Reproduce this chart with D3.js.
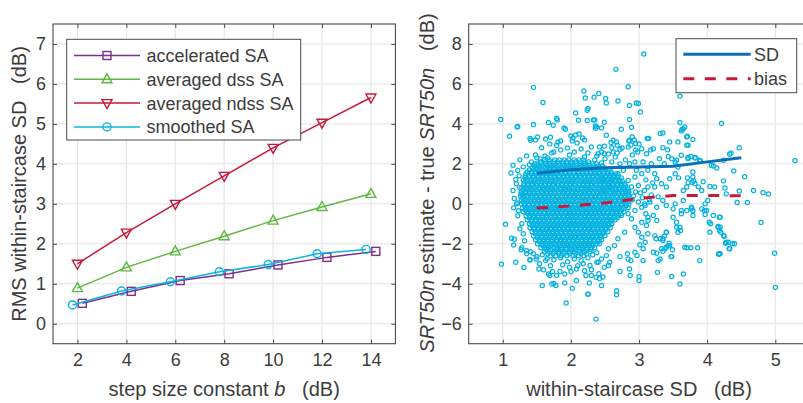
<!DOCTYPE html>
<html><head><meta charset="utf-8">
<script src="https://cdn.jsdelivr.net/npm/d3@7/dist/d3.min.js"></script>
<style>
body{margin:0;background:#fff}
svg{display:block}
text{font-family:"Liberation Sans",Arial,Helvetica,sans-serif;fill:#3c3c3c}
</style>
</head><body>
<svg id="chart" width="803" height="403"></svg>
<script>
// ---------- left panel data ----------
const stepSizes = [2, 4, 6, 8, 10, 12, 14];
const acceleratedSA = [0.51, 0.81, 1.08, 1.25, 1.47, 1.66, 1.81];
const averagedDssSA = [0.89, 1.41, 1.81, 2.19, 2.58, 2.92, 3.25];
const averagedNdssSA = [1.50, 2.28, 3.00, 3.70, 4.40, 5.03, 5.66];
const smoothedSA = [0.47, 0.82, 1.05, 1.30, 1.48, 1.75, 1.86];
const leftXTicks = [2, 4, 6, 8, 10, 12, 14];
const leftYTicks = [0, 1, 2, 3, 4, 5, 6, 7];

// ---------- right panel data ----------
const rightXTicks = [1, 2, 3, 4, 5];
const rightYTicks = [-6, -4, -2, 0, 2, 4, 6, 8];
const trendX = [1.5, 2.0, 2.5, 3.0, 3.5, 4.0, 4.5];
const sdTrend = [1.53, 1.70, 1.80, 1.84, 1.88, 2.10, 2.31];
const biasTrend = [-0.21, -0.11, 0.04, 0.27, 0.42, 0.42, 0.40];

// dense centre of the scatter: [y, x values in hundredths]
const scatterCoreRows = [
 [2.2, "161 168 176 183 190 197 205 212 219"],
 [2.0, "150 156 163 169 175 182 188 194 200 207 213 219 226 232 238"],
 [1.8, "143 149 155 162 168 174 180 187 193 199 205 212 218 224 230 237 243 249"],
 [1.6, "136 142 148 154 161 167 173 179 186 192 198 204 211 217 223 229 236 242 248 254 259"],
 [1.4, "133 139 145 151 158 164 170 176 182 189 195 201 207 213 220 226 232 238 245 251 257 263 269"],
 [1.2, "130 136 142 148 155 161 167 173 179 186 192 198 204 210 217 223 229 235 242 248 254 260 266 272"],
 [1.0, "131 137 143 149 156 162 168 174 181 187 193 199 205 212 218 224 230 237 243 249 255 261 268 274 279"],
 [0.8, "128 134 140 146 153 159 165 171 177 184 190 196 202 209 215 221 227 233 240 246 252 258 265 271 277 283"],
 [0.6, "127 133 139 145 151 157 164 170 176 182 188 195 201 207 213 219 226 232 238 244 250 257 263 269 275 281 285"],
 [0.4, "126 131 137 143 149 156 162 168 174 180 187 193 199 205 211 218 224 230 236 242 249 255 261 267 273 280 285"],
 [0.2, "127 133 139 146 152 158 164 170 177 183 189 195 201 208 214 220 226 233 239 245 251 257 264 270 276 282"],
 [0.0, "127 132 138 144 150 157 163 169 175 181 188 194 200 206 212 219 225 231 237 244 250 256 262 268 275 281 285"],
 [-0.2, "129 135 141 147 153 160 166 172 178 184 191 197 203 209 215 222 228 234 240 246 253 259 265 271 277 284"],
 [-0.4, "130 136 142 148 154 161 167 173 179 185 192 198 204 210 216 223 229 235 241 247 254 260 266 272 278"],
 [-0.6, "134 140 146 152 158 165 171 177 183 189 196 202 208 214 220 227 233 239 245 251 258 264 270"],
 [-0.8, "136 142 149 155 161 167 173 180 186 192 198 204 211 217 223 229 235 242 248 254 260 265"],
 [-1.0, "139 145 151 157 164 170 176 182 188 195 201 207 213 219 226 232 238 244 250 256 260"],
 [-1.2, "140 146 152 159 165 171 177 183 190 196 202 208 214 221 227 233 239 245 251 258"],
 [-1.4, "143 149 155 161 168 174 180 186 192 199 205 211 217 223 230 236 242 248 254"],
 [-1.6, "145 151 158 164 170 176 182 189 195 201 207 213 220 226 232 238 244 250"],
 [-1.8, "148 154 160 166 172 179 185 191 197 203 210 216 222 228 234 241 245"],
 [-2.0, "151 157 163 169 176 182 188 194 200 207 213 219 225 231 238 242"],
 [-2.2, "156 162 168 175 181 187 193 199 206 212 218 224 230 235"],
 [-2.4, "161 168 176 183 190 198 205 213 220 228"],
 [-2.6, "170 178 186 194 203 211 219"]
];
// second, interleaved layer of the dense centre
const scatterCoreRowsB = [
 [2.1, "155 162 168 175 181 188 194 201 207 214 220 226"],
 [1.9, "146 152 158 165 171 177 183 190 196 202 208 215 221 227 233 240 246"],
 [1.7, "139 145 151 158 164 170 176 183 189 195 201 208 214 220 226 233 239 245 251 256"],
 [1.5, "134 142 148 155 161 167 173 179 186 192 198 204 211 217 223 229 235 242 248 254 260 266"],
 [1.3, "133 139 145 152 158 164 170 176 183 189 195 201 207 214 220 226 232 239 245 251 257 263 269 274"],
 [1.1, "133 140 146 152 158 165 171 177 183 190 196 202 208 215 221 227 233 240 246 252 258 265 271 276"],
 [0.9, "131 137 143 150 156 162 168 174 181 187 193 199 206 212 218 224 230 237 243 249 255 262 268 274 280"],
 [0.7, "130 136 142 148 154 161 167 173 179 185 192 198 204 210 216 223 229 235 241 247 254 260 266 272 278 284"],
 [0.5, "129 134 140 146 152 159 165 171 177 183 190 196 202 208 214 221 227 233 239 246 252 258 264 270 276 283"],
 [0.3, "129 136 142 149 155 161 167 173 180 186 192 198 204 211 217 223 229 236 242 248 254 260 267 273 279 284"],
 [0.1, "130 135 141 147 153 160 166 172 178 184 191 197 203 209 216 222 228 234 240 247 253 259 265 271 278 284"],
 [-0.1, "132 138 144 150 156 163 169 175 181 187 194 200 206 212 218 225 231 237 243 249 256 262 268 274 281"],
 [-0.3, "133 139 145 151 157 164 170 176 182 188 195 201 207 213 219 226 232 238 244 250 257 263 269 275"],
 [-0.5, "137 143 149 155 161 168 174 180 186 192 199 205 211 217 223 230 236 242 248 254 261 267 273"],
 [-0.7, "139 145 152 158 164 170 176 183 189 195 201 207 214 220 226 232 238 245 251 257 263 268"],
 [-0.9, "142 148 154 160 167 173 179 185 191 198 204 210 216 222 229 235 241 247 253 258"],
 [-1.1, "143 149 155 162 168 174 180 186 193 199 205 211 217 224 230 236 242 248 255"],
 [-1.3, "146 152 158 164 171 177 183 189 195 202 208 214 220 226 233 239 245 251"],
 [-1.5, "148 154 161 167 173 179 185 192 198 204 210 216 223 229 235 241 247"],
 [-1.7, "151 157 163 169 175 182 188 194 200 206 213 219 225 231 237 243"],
 [-1.9, "154 160 166 172 179 185 191 197 203 210 216 222 228 234 240"],
 [-2.1, "159 165 171 178 184 190 196 202 209 215 221 227 232"],
 [-2.3, "164 171 179 186 193 201 208 216 223 230"],
 [-2.5, "166 174 182 190 198 207 215 223"]
];
// sparser points around the centre and outliers: "x,y"
const scatterUpper = "0.97,4.22 1.10,3.38 1.21,3.85 1.22,3.87 1.45,5.83 1.59,5.07 1.45,3.97 1.67,4.07 1.79,4.27 1.80,4.20 1.74,3.93 2.07,4.55 2.19,5.65 2.21,5.30 2.25,4.77 2.24,4.68 2.34,5.34 2.41,5.52 2.51,5.27 2.52,5.05 2.66,6.73 2.69,5.15 2.84,5.86 2.86,4.92 2.96,5.05 2.99,5.02 3.02,4.60 3.07,7.50 3.60,5.39 2.86,4.22 2.89,3.83 2.74,3.73 3.60,4.07 3.62,3.65 3.65,3.75 3.70,3.35 3.70,2.93 3.79,3.22 4.21,4.02 5.29,2.16 4.47,2.81 4.33,2.48 4.35,2.55 4.39,1.64 4.55,1.36 4.68,0.67 4.82,0.56 4.90,0.49 4.47,0.64 4.26,0.79 4.28,0.50 4.04,0.87 3.94,1.11 3.79,1.34 3.78,1.08 4.09,1.89 4.14,1.79 3.90,2.14 3.83,2.31 3.76,2.37 3.72,2.33 3.55,2.18 3.62,2.43 3.43,2.37 3.35,3.55 3.14,3.27 3.17,2.70 2.11,4.18 2.24,4.17 2.33,4.20 2.36,3.90 1.90,3.80 1.92,3.73 2.49,4.08 2.35,4.20 2.38,3.85 2.45,3.80 2.36,3.78";
const scatterUpperHalo = "1.40,3.27 1.41,3.18 1.51,3.35 1.48,3.20 1.57,2.81 1.63,3.25 1.70,3.33 1.69,3.00 1.81,3.10 1.79,2.92 1.85,3.15 2.00,3.40 2.03,3.30 2.07,3.45 2.12,3.50 2.17,3.30 2.20,3.20 2.02,3.15 2.09,3.05 1.48,2.45 1.50,2.30 1.55,2.25 1.62,2.40 1.66,2.30 1.39,1.95 1.47,2.00 1.42,2.10 1.75,2.60 1.85,2.70 1.95,2.80 2.05,2.60 2.15,2.75 2.25,2.55 2.30,2.85 2.38,2.40 2.45,2.60 2.50,2.25 2.55,2.50 2.60,2.10 2.65,2.35 2.72,2.00 2.80,2.20 2.90,2.45 2.95,2.70 3.00,3.00 2.88,2.95 2.93,3.20 2.98,2.60 2.85,3.15 2.75,2.80 2.68,2.55 1.98,2.45 1.72,2.55 2.20,2.35 2.35,2.20 2.45,2.05 1.30,1.85 1.35,2.40 1.25,2.20 1.15,1.93 1.12,1.54 1.22,1.67 1.19,1.22 1.20,1.00 1.15,0.67 1.27,0.50 1.17,0.27 1.25,0.80 1.24,1.40 1.20,0.00 1.16,-0.20 1.22,0.05 1.23,-0.35 2.52,3.43 2.62,3.18 2.59,3.07 2.67,3.10 2.68,2.93 2.60,2.81 2.49,2.88 2.42,2.85 2.40,2.51 2.49,2.51 2.62,2.60 2.72,2.73 2.84,2.85 2.86,3.18 2.90,3.35 2.95,3.02 3.04,2.76 3.11,2.51 3.12,3.27 3.21,2.76 3.31,3.52 3.35,2.81 3.42,2.71 3.30,2.26 3.45,3.10 3.57,3.10 3.63,3.72 3.67,3.85 3.71,3.38 3.72,2.93 3.72,2.26 3.82,2.29 3.89,2.18 4.06,1.93 4.24,2.18";
const scatterRightHalo = "3.58,1.30 3.71,1.30 3.72,1.05 3.80,1.15 3.87,0.85 4.24,1.15 3.33,1.01 3.40,0.84 3.45,1.26 3.57,1.84 3.53,1.51 3.23,0.84 3.26,1.26 3.13,0.84 3.08,0.67 2.99,0.92 2.94,1.34 2.89,0.84 2.84,1.17 2.79,0.76 2.74,1.01 2.64,0.51 2.57,0.84 2.49,0.67 2.47,1.26 2.60,1.26 2.69,1.51 2.77,1.68 2.86,2.01 2.96,1.68 3.04,1.51 3.13,1.68 3.23,1.51 3.37,2.01 3.53,2.09 3.48,2.26 3.06,2.09 2.94,2.09 3.18,2.01 3.70,0.84 3.82,1.01 3.65,0.67 3.92,0.67 4.11,0.84 3.79,1.59 2.92,0.40 3.02,0.55 2.90,0.20 3.05,0.30 3.18,0.45 3.28,0.35 3.15,0.20 2.95,0.60 3.10,1.20 3.20,1.05 2.99,0.09 3.09,-0.08 3.16,0.09 3.26,-0.17 3.35,0.17 3.40,-0.08 3.50,-0.25 3.53,0.00 3.62,-0.33 3.65,0.17 3.77,-0.17 3.79,-0.33 3.96,-0.33 3.97,0.00 4.01,0.17 4.03,-0.92 4.16,-1.17 4.18,-1.33 4.24,-1.59 4.17,-2.50 4.09,-0.58 3.55,-0.92 3.60,-1.17 3.61,-1.33 3.40,-1.42 3.31,-1.75 3.23,-1.59 3.25,-1.75 3.35,-1.84 3.21,-2.42 3.33,-2.25 3.38,-2.25 3.43,-2.09 3.48,-2.64 3.28,-2.84 3.06,-2.84 2.88,-2.84 2.84,-2.76 2.72,-2.64 2.83,-2.50 2.97,-2.59 2.94,-2.42 3.06,-2.25 3.01,-2.05 3.09,-1.92 3.13,-1.50 3.04,-1.67 2.99,-1.42 2.94,-1.17 3.04,-0.92 3.11,-1.08 3.13,-0.67 3.21,-0.58 3.26,-0.83 2.89,-0.75 2.84,-0.50 2.94,-0.33 2.74,-0.58 2.79,-1.42 2.69,-1.75 2.64,-2.09 2.55,-2.25 2.52,-2.59 2.57,-2.92 2.45,-2.76 2.40,-2.92 2.49,-3.18 2.55,-3.09";
const scatterLower = "3.67,-2.17 3.70,-2.20 3.76,-2.20 3.86,-2.20 3.89,-2.84 4.17,-2.52 3.47,-2.64 3.60,-4.01 3.65,-3.51 3.48,-3.64 3.27,-3.43 3.00,-3.64 3.00,-3.84 2.86,-3.26 2.72,-3.39 2.67,-4.35 2.67,-4.55 2.45,-4.09 2.37,-5.77 1.93,-4.96 2.25,-4.51 0.98,-3.02 1.04,-1.02 1.13,-1.72 1.17,-1.77 1.16,-2.06 1.19,-2.92 1.31,-3.19 1.27,-2.30 1.40,-2.80 1.28,-2.20 1.35,-2.35 1.41,-2.40 3.26,-2.47 3.31,-2.76 3.35,-2.37 3.40,-2.17 3.45,-2.09 3.49,-2.30 3.44,-1.97 3.40,-1.42 3.37,-1.62 3.35,-1.75 3.13,-0.83 3.10,-0.50 3.04,-0.17 3.08,0.00 3.50,-0.67 3.55,-1.17 3.57,-1.42 3.62,-0.50 3.70,-0.33 3.77,-0.25 3.79,-0.58 3.92,-0.25 3.99,-0.33 3.97,-0.53 4.05,-1.00 4.04,-1.42 4.18,-0.67 4.16,-1.13 4.20,-1.42 4.25,-1.62 4.31,-1.92 4.27,-1.97 4.37,-2.00 4.33,-2.25 4.19,-2.50 4.19,-0.67 4.19,-1.17 4.28,-1.92 4.40,-2.00 4.32,-2.24 4.44,0.07 4.59,0.07 4.79,-0.93 4.99,-2.47 5.00,-4.18 1.40,-2.81 1.49,-2.76 1.54,-3.00 1.53,-3.26 1.63,-2.84 1.67,-3.51 1.69,-3.59 1.73,-3.39 1.79,-3.59 1.84,-3.39 1.91,-3.51 1.98,-3.18 2.08,-3.26 2.18,-3.00 2.28,-3.09 2.38,-2.92 1.58,-4.09 1.72,-4.01 1.75,-3.98 1.78,-4.09 1.91,-3.96 2.02,-4.23 2.08,-3.84 2.22,-3.59 2.27,-3.96 2.30,-3.59 2.37,-3.68 2.25,-4.53 2.42,-3.74 2.47,-3.66 2.41,-3.50 2.87,-3.59 1.45,-2.50 1.50,-2.65 1.58,-2.55 1.65,-2.75 1.75,-2.80 1.85,-2.70 1.95,-2.90 2.05,-2.75 2.15,-2.85 2.25,-2.70 2.32,-2.55 2.38,-2.45 1.88,-3.05 2.10,-3.10 1.70,-3.10 1.60,-3.30 2.00,-3.40 2.20,-3.35 2.30,-3.30 1.35,-2.50 1.30,-1.50 1.28,-1.00 1.22,-0.60 1.25,-1.25 1.32,-1.85";

// ---------- build ----------
const svg = d3.select("#chart");
const AX = "#4a4a4a", GRID = "#e2e2e2", TXT = "#3c3c3c";
const tickFont = 18, labelFont = 20, legendFont = 18;
const fmt = d3.format("~g");

function frame(g, x, y, xt, yt) {
  const [x0, x1] = x.range(), [y0, y1] = y.range();
  g.append("g").selectAll("line").data(xt).join("line")
    .attr("x1", d => x(d)).attr("x2", d => x(d)).attr("y1", y0).attr("y2", y1)
    .attr("stroke", GRID).attr("stroke-width", 1);
  g.append("g").selectAll("line").data(yt).join("line")
    .attr("x1", x0).attr("x2", x1).attr("y1", d => y(d)).attr("y2", d => y(d))
    .attr("stroke", GRID).attr("stroke-width", 1);
}
function axesOnTop(g, x, y, xt, yt) {
  const [x0, x1] = x.range(), [y0, y1] = y.range();
  const xa = d3.axisBottom(x).tickValues(xt).tickFormat(fmt).tickSizeInner(-4).tickSizeOuter(0).tickPadding(10);
  const ya = d3.axisLeft(y).tickValues(yt).tickFormat(fmt).tickSizeInner(-4).tickSizeOuter(0).tickPadding(7);
  const gx = g.append("g").attr("transform", `translate(0,${y0})`).call(xa);
  const gy = g.append("g").attr("transform", `translate(${x0},0)`).call(ya);
  const gx2 = g.append("g").attr("transform", `translate(0,${y1})`).call(d3.axisTop(x).tickValues(xt).tickSizeInner(-4).tickSizeOuter(0).tickFormat(""));
  const gy2 = g.append("g").attr("transform", `translate(${x1},0)`).call(d3.axisRight(y).tickValues(yt).tickSizeInner(-4).tickSizeOuter(0).tickFormat(""));
  [gx, gy, gx2, gy2].forEach(a => {
    a.select(".domain").remove();
    a.selectAll("line").attr("stroke", AX);
    a.selectAll("text").style("font-size", tickFont + "px").style("font-family", '"Liberation Sans",Arial,sans-serif').attr("fill", TXT);
  });
  g.append("rect").attr("x", x0).attr("y", y1).attr("width", x1 - x0).attr("height", y0 - y1)
    .attr("fill", "none").attr("stroke", AX).attr("stroke-width", 1.1);
}

// ================= LEFT PANEL =================
const xL = d3.scaleLinear().domain([1, 15]).range([53, 395.4]);
const yL = d3.scaleLinear().domain([-0.5, 7.5]).range([343.7, 24]);
const gL = svg.append("g");
frame(gL, xL, yL, leftXTicks, leftYTicks);

const seriesL = [
  {name: "accelerated SA", values: acceleratedSA, color: "#7E2F8E", marker: "square", dx: 0.2},
  {name: "averaged dss SA", values: averagedDssSA, color: "#5FB843", marker: "up", dx: 0},
  {name: "averaged ndss SA", values: averagedNdssSA, color: "#C8193A", marker: "down", dx: 0},
  {name: "smoothed SA", values: smoothedSA, color: "#0AB4E3", marker: "circle", dx: -0.2}
];
function drawMarker(sel, type, cx, cy, color) {
  if (type === "square") {
    sel.append("rect").attr("x", cx - 4).attr("y", cy - 4).attr("width", 8).attr("height", 8)
      .attr("fill", "none").attr("stroke", color).attr("stroke-width", 1.4);
  } else if (type === "circle") {
    sel.append("circle").attr("cx", cx).attr("cy", cy).attr("r", 4)
      .attr("fill", "none").attr("stroke", color).attr("stroke-width", 1.4);
  } else if (type === "up") {
    sel.append("path").attr("d", `M${cx},${cy - 5.5}L${cx + 5},${cy + 3.5}L${cx - 5},${cy + 3.5}Z`)
      .attr("fill", "none").attr("stroke", color).attr("stroke-width", 1.4);
  } else {
    sel.append("path").attr("d", `M${cx},${cy + 5.5}L${cx + 5},${cy - 3.5}L${cx - 5},${cy - 3.5}Z`)
      .attr("fill", "none").attr("stroke", color).attr("stroke-width", 1.4);
  }
}
seriesL.forEach(s => {
  const pts = stepSizes.map((b, i) => [xL(b + s.dx), yL(s.values[i])]);
  gL.append("path").attr("d", d3.line()(pts)).attr("fill", "none").attr("stroke", s.color).attr("stroke-width", 1.5);
  const mg = gL.append("g");
  pts.forEach(p => drawMarker(mg, s.marker, p[0], p[1], s.color));
});
axesOnTop(gL, xL, yL, leftXTicks, leftYTicks);

// left legend
const lgL = gL.append("g");
lgL.append("rect").attr("x", 66.7).attr("y", 39.3).attr("width", 234).attr("height", 100.7)
  .attr("fill", "#fff").attr("stroke", AX).attr("stroke-width", 1);
seriesL.forEach((s, i) => {
  const cy = 55.5 + i * 23.8;
  lgL.append("line").attr("x1", 74).attr("x2", 140).attr("y1", cy).attr("y2", cy)
    .attr("stroke", s.color).attr("stroke-width", 1.5);
  drawMarker(lgL, s.marker, 107, cy, s.color);
  lgL.append("text").attr("x", 146.5).attr("y", cy).attr("dy", "0.36em")
    .style("font-size", legendFont + "px").text(s.name);
});

gL.append("text").attr("x", 224.2).attr("y", 396).attr("text-anchor", "middle")
  .style("font-size", labelFont + "px").style("white-space", "pre")
  .call(t => { t.append("tspan").text("step size constant "); t.append("tspan").style("font-style", "italic").text("b"); t.append("tspan").text("   (dB)"); });
gL.append("text").attr("transform", "translate(26,184) rotate(-90)").attr("text-anchor", "middle")
  .style("font-size", labelFont + "px").style("white-space", "pre")
  .text("RMS within-staircase SD   (dB)");

// ================= RIGHT PANEL =================
const xR = d3.scaleLinear().domain([0.5, 5.5]).range([468.7, 809.4]);
const yR = d3.scaleLinear().domain([-7, 9]).range([343.7, 24]);
const gR = svg.append("g");
frame(gR, xR, yR, rightXTicks, rightYTicks);

const pts = [];
[scatterCoreRows, scatterCoreRowsB].forEach(rows =>
  rows.forEach(([yv, xs]) => xs.trim().split(/\s+/).forEach(v => pts.push([+v / 100, yv]))));
[scatterUpper, scatterUpperHalo, scatterRightHalo, scatterLower].forEach(str =>
  str.trim().split(/\s+/).forEach(p => { const [a, b] = p.split(","); pts.push([+a, +b]); }));

gR.append("g").selectAll("circle").data(pts).join("circle")
  .attr("cx", d => xR(d[0])).attr("cy", d => yR(d[1])).attr("r", 2.1)
  .attr("fill", "none").attr("stroke", "#05B2E0").attr("stroke-width", 1.2);

const lineR = d3.line().x(d => xR(d[0])).y(d => yR(d[1]));
gR.append("path").attr("d", lineR(trendX.map((v, i) => [v, sdTrend[i]])))
  .attr("fill", "none").attr("stroke", "#0B6FB8").attr("stroke-width", 3);
gR.append("path").attr("d", lineR(trendX.map((v, i) => [v, biasTrend[i]])))
  .attr("fill", "none").attr("stroke", "#C8193A").attr("stroke-width", 3).attr("stroke-dasharray", "11,10.5");

axesOnTop(gR, xR, yR, rightXTicks, rightYTicks);

const lgR = gR.append("g");
lgR.append("rect").attr("x", 676).attr("y", 38.7).attr("width", 120.7).attr("height", 54)
  .attr("fill", "#fff").attr("stroke", AX).attr("stroke-width", 1);
[{name: "SD", color: "#0B6FB8", dash: null}, {name: "bias", color: "#C8193A", dash: "11,10.5"}].forEach((s, i) => {
  const cy = 54.3 + i * 24.4;
  const l = lgR.append("line").attr("x1", 683.3).attr("x2", 750.7).attr("y1", cy).attr("y2", cy)
    .attr("stroke", s.color).attr("stroke-width", 3);
  if (s.dash) l.attr("stroke-dasharray", s.dash);
  lgR.append("text").attr("x", 754).attr("y", cy).attr("dy", "0.36em")
    .style("font-size", legendFont + "px").text(s.name);
});

gR.append("text").attr("x", 639).attr("y", 396).attr("text-anchor", "middle")
  .style("font-size", labelFont + "px").style("white-space", "pre")
  .text("within-staircase SD   (dB)");
gR.append("text").attr("transform", "translate(434,183) rotate(-90)").attr("text-anchor", "middle")
  .style("font-size", labelFont + "px").style("white-space", "pre")
  .call(t => {
    t.append("tspan").style("font-style", "italic").text("SRT50n");
    t.append("tspan").text(" estimate - true ");
    t.append("tspan").style("font-style", "italic").text("SRT50n");
    t.append("tspan").text("   (dB)");
  });
</script>
</body></html>
